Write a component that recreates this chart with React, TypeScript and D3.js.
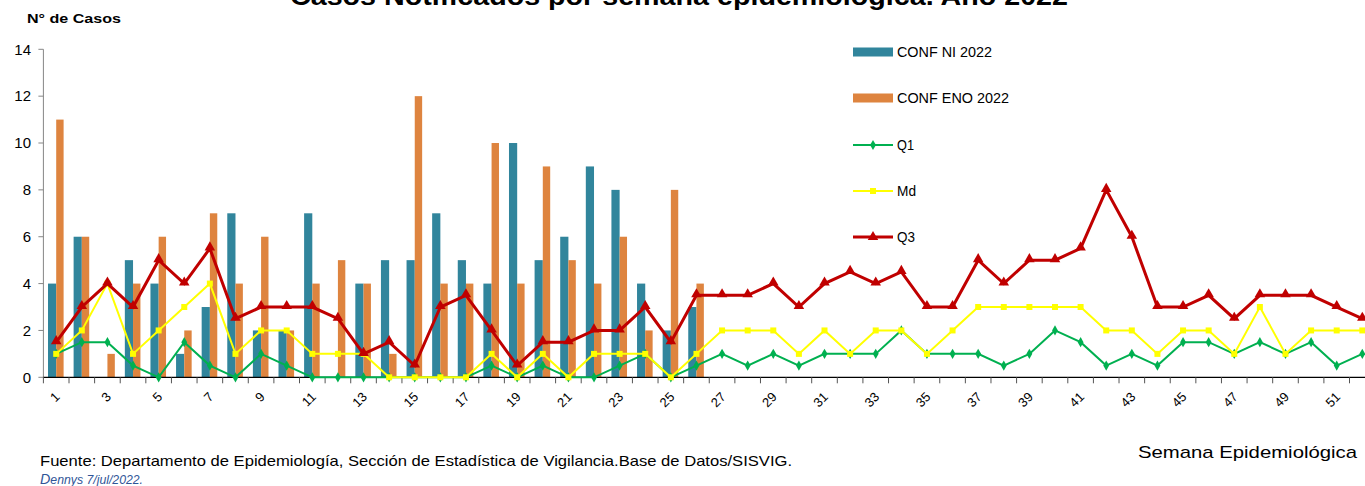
import React from "react";
import * as d3 from "d3";

const weeks: number[] = Array.from({ length: 52 }, (_, i) => i + 1);
const confNI: (number | null)[] = [4, 6, 0, 5, 4, 1, 3, 7, 2, 2, 7, 0, 4, 5, 5, 7, 5, 4, 10, 5, 6, 9, 8, 4, 2, 3];
const confENO: (number | null)[] = [11, 6, 1, 4, 6, 2, 7, 4, 6, 2, 4, 5, 4, 1, 12, 4, 4, 10, 4, 9, 5, 4, 6, 2, 8, 4];
const q1: number[] = [1, 1.5, 1.5, 0.5, 0, 1.5, 0.5, 0, 1, 0.5, 0, 0, 0, 0, 0, 0, 0, 0.5, 0, 0.5, 0, 0, 0.5, 1, 0, 0.5,
  1, 0.5, 1, 0.5, 1, 1, 1, 2, 1, 1, 1, 0.5, 1, 2, 1.5, 0.5, 1, 0.5, 1.5, 1.5, 1, 1.5, 1, 1.5, 0.5, 1];
const md: number[] = [1, 2, 4, 1, 2, 3, 4, 1, 2, 2, 1, 1, 1, 0, 0, 0, 0, 1, 0, 1, 0, 1, 1, 1, 0, 1,
  2, 2, 2, 1, 2, 1, 2, 2, 1, 2, 3, 3, 3, 3, 3, 2, 2, 1, 2, 2, 1, 3, 1, 2, 2, 2];
const q3: number[] = [1.5, 3, 4, 3, 5, 4, 5.5, 2.5, 3, 3, 3, 2.5, 1, 1.5, 0.5, 3, 3.5, 2, 0.5, 1.5, 1.5, 2, 2, 3, 1.5, 3.5,
  3.5, 3.5, 4, 3, 4, 4.5, 4, 4.5, 3, 3, 5, 4, 5, 5, 5.5, 8, 6, 3, 3, 3.5, 2.5, 3.5, 3.5, 3.5, 3, 2.5];
const yTicks: number[] = [0, 2, 4, 6, 8, 10, 12, 14];
const xLabels: number[] = weeks.filter((w) => w % 2 === 1);

const FONT = "Arial, 'Liberation Sans', sans-serif";
const TEAL = "#31859C";
const ORANGE = "#DE843F";
const GREEN = "#00B050";
const YELLOW = "#FFFF00";
const RED = "#C00000";

export default function App() {
  const left = 43.4;
  const band = 25.61;
  const x = d3
    .scaleBand<number>()
    .domain(weeks)
    .range([left, left + band * weeks.length])
    .paddingInner(0)
    .paddingOuter(0);
  const y = d3.scaleLinear().domain([0, 14]).range([377.3, 49.3]);
  const cx = (w: number) => (x(w) as number) + x.bandwidth() / 2;
  const barW = 8.2;

  const line = d3
    .line<number>()
    .x((_, i) => cx(weeks[i]))
    .y((d) => y(d));

  const tri = d3.symbol().type(d3.symbolTriangle).size(48)() as string;
  const dia = d3.symbol().type(d3.symbolDiamond).size(30)() as string;
  const sq = d3.symbol().type(d3.symbolSquare).size(36)() as string;

  const legendX = 853;
  const legendItems = [
    { label: "CONF NI 2022", kind: "bar", color: TEAL, y: 52, len: 95 },
    { label: "CONF ENO 2022", kind: "bar", color: ORANGE, y: 98, len: 112 },
    { label: "Q1", kind: "line", color: GREEN, y: 145, sym: dia, w: 2, len: 17 },
    { label: "Md", kind: "line", color: YELLOW, y: 191, sym: sq, w: 2, len: 19 },
    { label: "Q3", kind: "line", color: RED, y: 237, sym: tri, w: 3, len: 18 },
  ];

  return (
    <svg
      width={1365}
      height={486}
      style={{ position: "absolute", left: 0, top: 0, background: "#fff" }}
      fontFamily={FONT}
    >
      <rect width={1365} height={486} fill="#fff" />
      <text x={679} y={5} textAnchor="middle" fontSize={25} fontWeight="bold" fill="#000" textLength={778} lengthAdjust="spacingAndGlyphs">
        Casos Notificados por semana epidemiológica. Año 2022
      </text>
      <text x={27} y={23} fontSize={13} fontWeight="bold" fill="#000" textLength={94} lengthAdjust="spacingAndGlyphs">
        N° de Casos
      </text>

      {/* y axis */}
      <line x1={left} x2={left} y1={y(14)} y2={y(0)} stroke="#868686" strokeWidth={1} />
      {yTicks.map((t) => (
        <g key={t}>
          <line x1={left - 5} x2={left} y1={y(t)} y2={y(t)} stroke="#868686" />
          <text x={31} y={y(t)} dy="0.35em" textAnchor="end" fontSize={15} fill="#000">
            {t}
          </text>
        </g>
      ))}

      {/* bars */}
      {confNI.map((v, i) =>
        v === null || v === 0 ? null : (
          <rect key={"ni" + i} x={cx(weeks[i]) - barW} y={y(v)} width={barW} height={y(0) - y(v)} fill={TEAL} />
        )
      )}
      {confENO.map((v, i) =>
        v === null || v === 0 ? null : (
          <rect key={"eno" + i} x={cx(weeks[i])} y={y(v)} width={barW - 0.8} height={y(0) - y(v)} fill={ORANGE} />
        )
      )}

      {/* x axis */}
      <line x1={left} x2={1365} y1={y(0)} y2={y(0)} stroke="#000" strokeWidth={1.2} />
      {weeks.map((w) => (
        <line key={"t" + w} x1={x(w) as number} x2={x(w) as number} y1={y(0)} y2={y(0) + 6} stroke="#555" />
      ))}
      {xLabels.map((w) => (
        <text
          key={"xl" + w}
          transform={`translate(${cx(w) - 2},${y(0) + 14}) rotate(-45)`}
          textAnchor="end"
          dy="0.7em"
          fontSize={13}
          fill="#000"
        >
          {w}
        </text>
      ))}

      {/* lines */}
      <path d={line(q1) as string} fill="none" stroke={GREEN} strokeWidth={2} />
      {q1.map((v, i) => (
        <path key={"q1" + i} d={dia} transform={`translate(${cx(weeks[i])},${y(v)})`} fill={GREEN} />
      ))}
      <path d={line(md) as string} fill="none" stroke={YELLOW} strokeWidth={2} />
      {md.map((v, i) => (
        <path key={"md" + i} d={sq} transform={`translate(${cx(weeks[i])},${y(v)})`} fill={YELLOW} />
      ))}
      <path d={line(q3) as string} fill="none" stroke={RED} strokeWidth={3} strokeLinejoin="miter" />
      {q3.map((v, i) => (
        <path key={"q3" + i} d={tri} transform={`translate(${cx(weeks[i])},${y(v) - 1})`} fill={RED} />
      ))}

      {/* legend */}
      {legendItems.map((it) => (
        <g key={it.label}>
          {it.kind === "bar" ? (
            <rect x={legendX} y={it.y - 4.5} width={40} height={9} fill={it.color} />
          ) : (
            <g>
              <line x1={legendX} x2={legendX + 40} y1={it.y} y2={it.y} stroke={it.color} strokeWidth={it.w} />
              <path d={it.sym as string} transform={`translate(${legendX + 20},${it.y})`} fill={it.color} />
            </g>
          )}
          <text x={legendX + 44} y={it.y} dy="0.35em" fontSize={14} fill="#000" textLength={it.len} lengthAdjust="spacingAndGlyphs">
            {it.label}
          </text>
        </g>
      ))}

      {/* footer */}
      <text x={1138} y={458} fontSize={17} fill="#000" textLength={219} lengthAdjust="spacingAndGlyphs">
        Semana Epidemiológica
      </text>
      <text x={40} y={466} fontSize={15} fill="#000" textLength={752} lengthAdjust="spacingAndGlyphs">
        Fuente: Departamento de Epidemiología, Sección de Estadística de Vigilancia.Base de Datos/SISVIG.
      </text>
      <text x={40} y={484} fontSize={12} fontStyle="italic" fill="#2F5597" textLength={103} lengthAdjust="spacingAndGlyphs">
        <tspan fontSize={14}>D</tspan>ennys  7/jul/2022.
      </text>
    </svg>
  );
}
